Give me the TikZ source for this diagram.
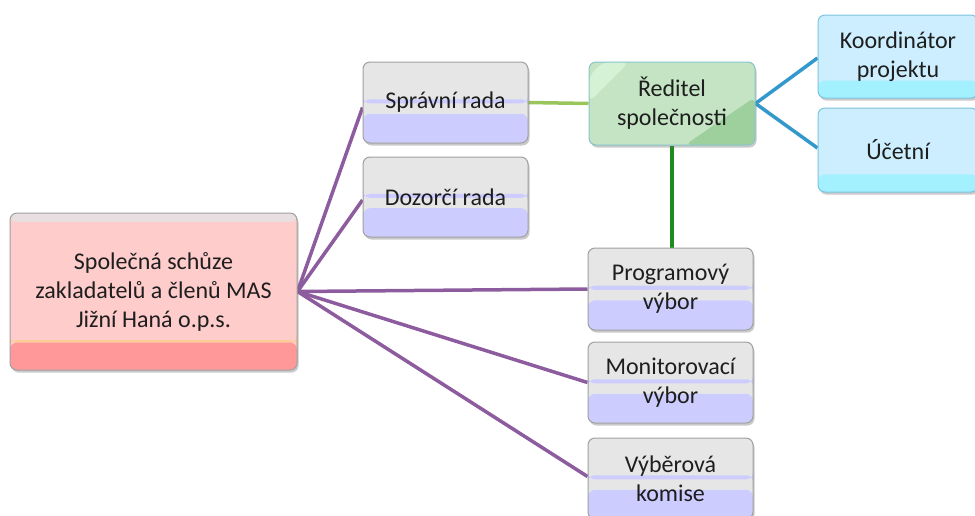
\documentclass[tikz,border=0pt]{standalone}
\usepackage{fontspec}
\setmainfont{Carlito}
\usetikzlibrary{calc,shadows,backgrounds}
\definecolor{boxgray}{HTML}{E6E6E6}
\definecolor{bordgray}{HTML}{A0A0A0}
\definecolor{lav}{HTML}{CCCCFF}
\definecolor{pinkA}{HTML}{FFCCCC}
\definecolor{pinkB}{HTML}{FF9999}
\definecolor{pinkline}{HTML}{FFCC99}
\definecolor{pinktop}{HTML}{E8E0E0}
\definecolor{grbase}{HTML}{C4E4C4}
\definecolor{grlight}{HTML}{D6F2D6}
\definecolor{grdark}{HTML}{9ED09E}
\definecolor{grbord}{HTML}{86C4CC}
\definecolor{cyA}{HTML}{CCEEFF}
\definecolor{cyB}{HTML}{A3F0FF}
\definecolor{cybord}{HTML}{7CC4E0}
\definecolor{txt}{HTML}{1E1E1E}
\definecolor{purp}{HTML}{8C5C9E}
\definecolor{lgreen}{HTML}{99C55A}
\definecolor{dgreen}{HTML}{1E8C1E}
\definecolor{blu}{HTML}{3399CC}
\newcommand\myband[3]{\fill[#1] ($(path picture bounding box.north west)!#2!(path picture bounding box.south west)$) rectangle ($(path picture bounding box.north east)!#3!(path picture bounding box.south east)$);}
\newcommand\mainfs{\fontsize{24pt}{29pt}\selectfont}
\tikzset{
  base/.style={rectangle, rounded corners=7pt, align=center, font=\mainfs, text=txt, line width=1pt,
    drop shadow={shadow xshift=1.5pt, shadow yshift=-2.5pt, opacity=0.35, fill=black!60}},
  lavbox/.style={base, draw=bordgray, fill=boxgray, minimum width=165pt, minimum height=81pt,
    path picture={\myband{lav}{0.46}{0.51}\myband{lav}{0.64}{1}}},
  pinkbox/.style={base, draw=bordgray, fill=pinkA,
    path picture={\myband{pinktop}{0}{0.057}\myband{pinkline}{0.81}{0.825}\myband{pinkB}{0.825}{1}}},
  greenbox/.style={base, draw=grbord, fill=grbase,
    path picture={
      \fill[grlight] ([yshift=-14pt]path picture bounding box.north west) -- ([xshift=14pt]path picture bounding box.north west) -- ([xshift=40pt]path picture bounding box.north west) -- ([yshift=-40pt]path picture bounding box.north west) -- cycle;
      \fill[grdark] ([xshift=-70pt]path picture bounding box.south east) -- (path picture bounding box.south east) -- ([yshift=48pt]path picture bounding box.south east) -- cycle;}},
  cyanbox/.style={base, draw=cybord, fill=cyA, minimum width=160pt,
    path picture={\myband{cyB}{0.79}{1}}},
  conn/.style={line width=3.5pt},
}
\begin{document}
\begin{tikzpicture}[x=1pt,y=-1pt]
\useasboundingbox (0,0) rectangle (975,515);
\node[pinkbox, minimum width=287pt, minimum height=157pt] (main) at (153.5,291.5) {Společná schůze\\zakladatelů a členů MAS\\Jižní Haná o.p.s.};
\node[lavbox] (sr) at (445.5,102.5) {Správní rada};
\node[lavbox, minimum height=80pt] (dr) at (445.5,197) {Dozorčí rada};
\node[greenbox, minimum width=166pt, minimum height=83pt] (red) at (672,103.5) {Ředitel\\společnosti};
\node[cyanbox, minimum height=83pt] (koo) at (898,56.5) {Koordinátor\\projektu};
\node[cyanbox, minimum height=84pt] (uce) at (898,150) {Účetní};
\node[lavbox, minimum height=82pt] (prog) at (670.5,289) {Programový\\výbor};
\node[lavbox] (mon) at (670.5,382.5) {Monitorovací\\výbor};
\node[lavbox] (vyb) at (670.5,478.5) {Výběrová\\komise};
\begin{scope}[on background layer]
\draw[conn, purp] (main.east) -- ([yshift=-5pt]sr.west);
\draw[conn, purp] (main.east) -- ([yshift=-3pt]dr.west);
\draw[conn, purp] (main.east) -- (prog.west);
\draw[conn, purp] (main.east) -- (mon.west);
\draw[conn, purp] (main.east) -- ([yshift=2pt]vyb.west);
\draw[conn, lgreen] (sr.east) -- (red.west);
\draw[conn, dgreen] (red.south) -- (red.south |- prog.north);
\draw[conn, blu] (red.east) -- ([yshift=-1.5pt]koo.west);
\draw[conn, blu] (red.east) -- ([yshift=2pt]uce.west);
\end{scope}
\end{tikzpicture}
\end{document}
